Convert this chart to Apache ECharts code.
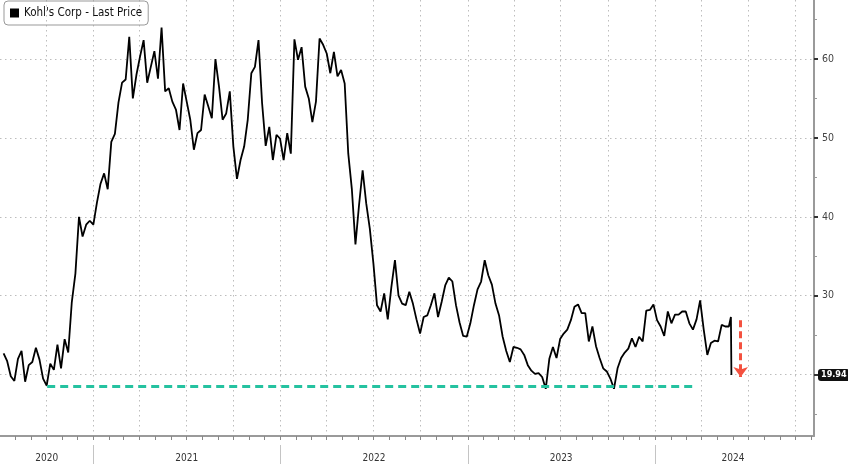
<!DOCTYPE html>
<html><head><meta charset="utf-8">
<script src="https://cdn.jsdelivr.net/npm/echarts@6/dist/echarts.min.js"></script>
<style>html,body{margin:0;padding:0;background:#fff}#c{width:848px;height:464px}</style>
</head><body><div id="c"></div>
<script>
// ---------- data ----------
const seriesName = "Kohl's Corp - Last Price";
const weekStart = '2020-07-10';          // first weekly close
const weeklyClose = [
 22.7,21.7,19.8,19.2,22.0,23.0,19.1,21.2,21.6,23.4,
 21.9,19.5,18.6,21.4,20.6,23.8,20.8,24.5,22.8,29.2,
 32.8,40.0,37.5,39.0,39.5,39.0,41.8,44.2,45.5,43.5,
 49.5,50.5,54.5,57.0,57.4,62.8,55.0,58.0,60.3,62.4,
 57.0,59.0,61.0,57.5,64.0,55.9,56.3,54.6,53.6,51.0,
 56.9,54.6,52.3,48.5,50.6,51.0,55.5,54.0,52.5,60.0,
 56.5,52.3,53.1,55.9,48.9,44.8,47.2,48.9,52.3,58.2,
 59.0,62.4,54.4,49.0,51.4,47.2,50.4,49.9,47.2,50.6,
 48.0,62.5,59.9,61.5,56.5,55.0,52.0,54.6,62.6,61.8,
 60.7,58.2,60.9,57.8,58.6,56.9,48.0,43.5,36.5,41.5,
 45.9,41.7,38.5,34.1,28.8,28.0,30.3,27.0,31.1,34.5,
 30.0,29.0,28.8,30.5,29.0,27.0,25.2,27.3,27.5,28.8,
 30.3,27.3,29.2,31.3,32.3,31.8,28.8,26.6,24.9,24.8,
 26.5,28.8,30.8,31.8,34.5,32.6,31.4,29.0,27.5,24.8,
 23.0,21.6,23.5,23.4,23.2,22.5,21.2,20.5,20.1,20.2,
 19.7,18.2,22.0,23.5,22.1,24.5,25.2,25.7,26.9,28.6,
 28.9,27.8,27.8,24.2,26.1,23.6,22.1,20.8,20.4,19.5,
 18.2,20.8,22.1,22.8,23.3,24.6,23.5,24.8,24.2,28.1,
 28.2,28.9,26.9,26.1,24.9,28.0,26.5,27.6,27.6,28.0,
 28.0,26.5,25.7,27.0,29.4,25.7,22.5,24.0,24.3,24.2,
 26.3,26.1,26.1
];
const finalDates = ['2024-05-28', '2024-05-29'];
const finalCloses = [27.3, 19.94];
const lastPrice = 19.94;

const yGridValues = [20, 30, 40, 50, 60];
const yLabelValues = [30, 40, 50, 60];
const yMinorValues = [15, 25, 35, 45, 55, 65];
const yearLabels = ['2020', '2021', '2022', '2023', '2024'];
const yearLabelDates = ['2020-10-02', '2021-07-02', '2022-07-02', '2023-07-02', '2024-06-01'];
const yearStarts = ['2021-01-01', '2022-01-01', '2023-01-01', '2024-01-01'];

const supportLevel = 18.47;
const supportFrom = '2020-10-03';
const supportTo = '2024-03-20';
const arrowDate = '2024-06-16';
const arrowFrom = 26.9;
const arrowTo = 19.7;

const xMin = '2020-07-03', xMax = '2024-11-06';
const yMin = 12.22, yMax = 67.48;

// ---------- build ----------
const ts = s => Date.parse(s + 'T00:00:00Z');
const DAY = 86400000;
const points = weeklyClose.map((v, i) => [ts(weekStart) + i * 7 * DAY, v]);
finalDates.forEach((d, i) => points.push([ts(d), finalCloses[i]]));

const monthTicks = [], quarterTicks = [];
{
  const a = new Date(ts(xMin)), b = ts(xMax);
  let y = a.getUTCFullYear(), m = a.getUTCMonth() + 1;
  while (true) {
    const t = Date.UTC(y, m, 1);
    if (t > b) break;
    monthTicks.push(t);
    if (m % 3 === 0) quarterTicks.push(t);
    m++; if (m > 11) { m = 0; y++; }
  }
}
const labelTs = yearLabelDates.map(ts);
const FONT = "'Liberation Sans Narrow','DejaVu Sans Condensed','Liberation Sans',sans-serif";
const gridDash = [1.5, 3.5];

const baseX = { type: 'value', min: ts(xMin), max: ts(xMax), gridIndex: 0 };
const baseY = { type: 'value', min: yMin, max: yMax, position: 'right', gridIndex: 0 };

const option = {
  animation: false,
  backgroundColor: '#fff',
  textStyle: { fontFamily: FONT },
  grid: { left: 0, right: 34, top: 0, bottom: 28, outerBoundsMode: 'none', containLabel: false },
  legend: {
    left: 4, top: 1, data: [seriesName], icon: 'rect',
    itemWidth: 9, itemHeight: 9, padding: [6, 6, 6, 6],
    borderColor: '#999', borderWidth: 1, borderRadius: 4,
    textStyle: { fontSize: 11.5, color: '#111', fontFamily: FONT }
  },
  xAxis: [
    Object.assign({}, baseX, {
      position: 'bottom',
      axisLine: { show: true, lineStyle: { color: '#9a9a9a', width: 2 } },
      axisTick: { show: true, customValues: monthTicks, length: 4, lineStyle: { color: '#888' } },
      axisLabel: { show: false }, splitLine: { show: false }
    }),
    Object.assign({}, baseX, {
      position: 'bottom',
      axisLine: { show: false },
      axisTick: { show: false, customValues: quarterTicks },
      axisLabel: { show: false },
      splitLine: { show: true, lineStyle: { color: '#bdbdbd', type: gridDash, width: 1 } }
    }),
    Object.assign({}, baseX, {
      position: 'bottom', offset: 9,
      axisLine: { show: false },
      axisTick: { show: true, customValues: yearStarts.map(ts), length: 20, lineStyle: { color: '#c4c4c4' } },
      axisLabel: {
        show: true, customValues: labelTs, margin: 8, fontSize: 10, color: '#333', fontFamily: FONT,
        formatter: v => { const i = labelTs.indexOf(v); return i >= 0 ? yearLabels[i] : ''; }
      },
      splitLine: { show: false }
    })
  ],
  yAxis: [
    Object.assign({}, baseY, {
      axisLine: { show: true, lineStyle: { color: '#9a9a9a', width: 2 } },
      axisTick: { show: true, customValues: yGridValues, length: 4, lineStyle: { color: '#333', width: 2 } },
      axisLabel: { show: true, customValues: yLabelValues, margin: 8, fontSize: 10.5, color: '#444', fontFamily: FONT },
      splitLine: { show: true, lineStyle: { color: '#bdbdbd', type: gridDash, width: 1 } }
    }),
    Object.assign({}, baseY, {
      axisLine: { show: false },
      axisTick: { show: true, customValues: yMinorValues, length: 3, lineStyle: { color: '#999' } },
      axisLabel: { show: false }, splitLine: { show: false }
    }),
    Object.assign({}, baseY, {
      axisLine: { show: false }, axisTick: { show: false }, splitLine: { show: false },
      axisLabel: {
        show: true, customValues: [lastPrice], margin: 4, fontSize: 9, color: '#fff', fontWeight: 'bold',
        backgroundColor: '#111', padding: [2, 3, 1, 3], borderRadius: 3, fontFamily: FONT,
        formatter: v => Number(v).toFixed(2)
      }
    })
  ],
  series: [{
    name: seriesName, type: 'line', xAxisIndex: 0, yAxisIndex: 0,
    data: points, symbol: 'none', showSymbol: false,
    color: '#000',
    lineStyle: { color: '#000', width: 1.8 },
    markLine: {
      silent: true, animation: false,
      symbol: ['none', 'none'],
      label: { show: false },
      emphasis: { disabled: true },
      data: [
        [
          { coord: [ts(supportFrom), supportLevel], lineStyle: { color: '#25c2a0', width: 3, type: [8, 5] } },
          { coord: [ts(supportTo), supportLevel] }
        ],
        [
          { coord: [ts(arrowDate), arrowFrom], symbol: 'none', lineStyle: { color: '#f4513f', width: 3, type: [7, 4] } },
          { coord: [ts(arrowDate), arrowTo], symbol: 'arrow', symbolSize: [11, 10] }
        ]
      ]
    }
  }]
};
const chart = echarts.init(document.getElementById('c'), null, { renderer: 'canvas' });
chart.setOption(option);
</script>
</body></html>
